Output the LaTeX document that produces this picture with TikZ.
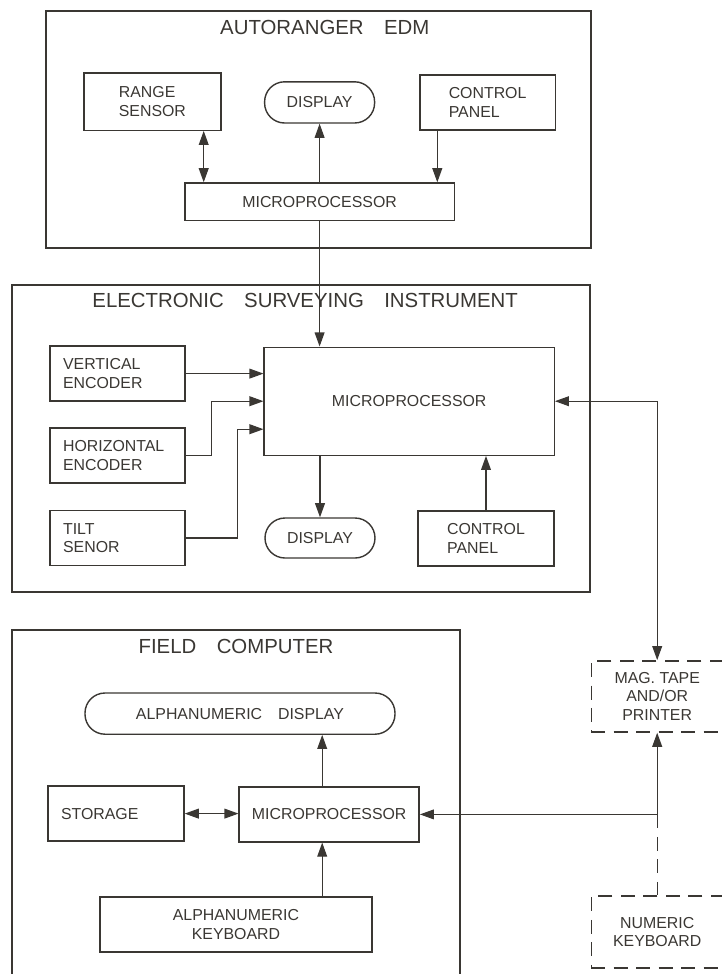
\documentclass[tikz,border=0pt]{standalone}
\usepackage{fontspec}
\setmainfont{Liberation Sans}
\usetikzlibrary{arrows.meta, positioning, calc}
\definecolor{ink}{HTML}{3A3733}

\begin{document}
\begin{tikzpicture}[
    color=ink,
    frame/.style={draw, line width=1.4pt, inner sep=0pt},
    title/.style={font=\fontsize{14.5}{16}\selectfont, inner sep=1pt},
    box/.style={draw, line width=1pt, inner sep=0pt, align=left,
                font=\fontsize{11.3}{13}\selectfont, minimum height=1.375cm},
    lbox/.style={box, inner xsep=0.325cm, text width=2.725cm, minimum width=3.375cm},
    pill/.style={box, rounded corners=0.5cm},
    dbox/.style={box, align=center, dash pattern=on 10pt off 6pt},
    conn/.style={line width=0.8pt, -{Triangle[length=10pt,width=7pt]}},
    biconn/.style={line width=0.8pt, {Triangle[length=10pt,width=7pt]}-{Triangle[length=10pt,width=7pt]}},
  ]
    \useasboundingbox (0,0) rectangle (18.05,-24.35);
    \clip (0,0) rectangle (18.05,-24.35);

    % autoranger EDM
    \node[frame, minimum width=13.63cm, minimum height=5.93cm] (edm) at (7.96,-3.24) {};
    \node[title] (edmtitle) at (8.12,-0.69) {AUTORANGER\quad EDM};
    \node[box, minimum width=3.43cm, minimum height=1.43cm] (rs) at (3.81,-2.54) {RANGE\\SENSOR};
    \node[pill, minimum width=2.75cm, minimum height=1.03cm] (edmdisp) at (7.99,-2.56) {DISPLAY};
    \node[box, minimum width=3.38cm] (edmcp) at (12.19,-2.56) {CONTROL\\PANEL};
    \node[box, minimum width=6.73cm, minimum height=0.93cm] (edmmp) at (7.99,-5.04) {MICROPROCESSOR};

    % electronic surveying instrument
    \node[frame, minimum width=14.45cm, minimum height=7.68cm] (esi) at (7.53,-10.96) {};
    \node[title] (esititle) at (7.63,-7.5) {ELECTRONIC\quad SURVEYING\quad INSTRUMENT};
    \node[lbox] (ve) at (2.94,-9.34) {VERTICAL\\ENCODER};
    \node[lbox] (he) at (2.94,-11.39) {HORIZONTAL\\ENCODER};
    \node[lbox] (ts) at (2.94,-13.45) {TILT\\SENOR};
    \node[box, minimum width=7.25cm, minimum height=2.7cm] (esimp) at (10.23,-10.03) {MICROPROCESSOR};
    \node[pill, minimum width=2.75cm, minimum height=1.0cm] (esidisp) at (8.0,-13.45) {DISPLAY};
    \node[box, minimum width=3.4cm] (esicp) at (12.15,-13.46) {CONTROL\\PANEL};

    % field computer
    \node[frame, minimum width=11.2cm, minimum height=8.88cm] (fc) at (5.9,-20.19) {};
    \node[title] (fctitle) at (5.9,-16.16) {FIELD\quad COMPUTER};
    \node[pill, minimum width=7.75cm, minimum height=1.03cm] (fcdisp) at (6.0,-17.84) {ALPHANUMERIC\quad DISPLAY};
    \node[lbox, text width=2.75cm, minimum width=3.4cm] (st) at (2.9,-20.34) {STORAGE};
    \node[box, minimum width=4.5cm] (fcmp) at (8.23,-20.36) {MICROPROCESSOR};
    \node[box, minimum width=6.8cm, align=center] (ak) at (5.9,-23.11) {ALPHANUMERIC\\KEYBOARD};

    % outside units
    \node[dbox, minimum width=3.3cm, minimum height=1.78cm] (mag) at (16.43,-17.41) {MAG.\ TAPE\\AND/OR\\PRINTER};
    \node[dbox, minimum width=3.3cm, minimum height=1.8cm] (nk) at (16.43,-23.3) {NUMERIC\\KEYBOARD};
    \coordinate (jn) at (mag.south |- fcmp.east);

    % edges inside EDM
    \draw[biconn] ([xshift=-0.45cm]rs.south east) -- ([xshift=-0.45cm]rs.south east |- edmmp.north);
    \draw[conn] (edmmp.north) -- (edmdisp.south);
    \draw[conn] ([xshift=0.45cm]edmcp.south west) -- ([xshift=0.45cm]edmcp.south west |- edmmp.north);
    \draw[conn] (edmmp.south) -- (edmmp.south |- esimp.north);

    % edges inside ESI
    \draw[conn] (ve.east) -- (ve.east -| esimp.west);
    \draw[conn] (he.east) -- ++(0.65,0) |- (esimp.west);
    \draw[conn] (ts.east) -- ++(1.3,0) |- ([yshift=-0.7cm]esimp.west);
    \draw[conn] (esimp.south -| esidisp.north) -- (esidisp.north);
    \draw[conn] (esicp.north) -- (esicp.north |- esimp.south);
    \draw[biconn] (esimp.east) -| (mag.north);

    % edges inside field computer
    \draw[conn] ([xshift=-0.175cm]fcmp.north) -- ([xshift=-0.175cm]fcmp.north |- fcdisp.south);
    \draw[conn] ([xshift=-0.175cm]fcmp.south |- ak.north) -- ([xshift=-0.175cm]fcmp.south);
    \draw[biconn] (st.east) -- (st.east -| fcmp.west);
    \draw[conn] (jn) -- (fcmp.east);
    \draw[conn] (jn) -- (mag.south);
    \draw[line width=0.8pt, dash pattern=on 10pt off 6pt] (jn) -- (nk.north);
  \end{tikzpicture}
\end{document}
